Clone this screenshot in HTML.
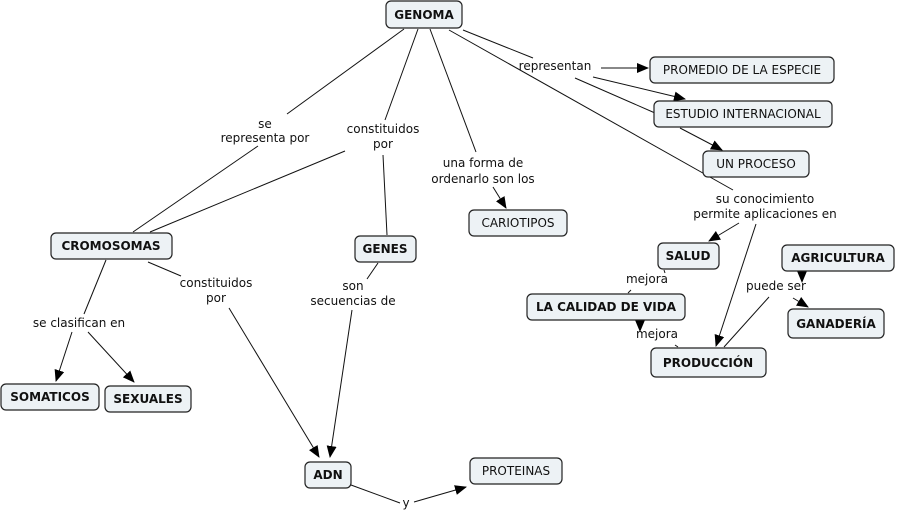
<!DOCTYPE html>
<html><head><meta charset="utf-8"><style>
html,body{margin:0;padding:0;background:#fff;}
svg{display:block;}
text{font-family:"DejaVu Sans","Liberation Sans",sans-serif;font-size:12px;fill:#111;}
.b{font-weight:bold;font-size:12px;}
rect{fill:#edf2f5;stroke:#222;stroke-width:1.2;}
line,polyline{stroke:#111;stroke-width:1;fill:none;}
</style></head><body>
<svg width="898" height="513" viewBox="0 0 898 513" xmlns="http://www.w3.org/2000/svg">
<defs><marker id="a" markerWidth="12" markerHeight="10" refX="11" refY="5" orient="auto" markerUnits="userSpaceOnUse"><path d="M0,0 L12,5 L0,10 z" fill="#000"/></marker></defs>
<!-- connectors -->
<line x1="404" y1="29" x2="287" y2="114"/>
<line x1="258" y1="146" x2="133" y2="232"/>
<line x1="418" y1="29" x2="385" y2="120"/>
<line x1="345" y1="151" x2="150" y2="232"/>
<line x1="383" y1="155" x2="387" y2="235"/>
<line x1="430" y1="29" x2="476" y2="152"/>
<line x1="493" y1="187" x2="506" y2="208" marker-end="url(#a)"/>
<line x1="463" y1="30" x2="533" y2="58"/>
<line x1="601" y1="68" x2="648" y2="68" marker-end="url(#a)"/>
<line x1="593" y1="77" x2="685" y2="99" marker-end="url(#a)"/>
<line x1="575" y1="78" x2="655" y2="113"/>
<line x1="680" y1="128" x2="722" y2="150" marker-end="url(#a)"/>
<line x1="449" y1="30" x2="733" y2="190"/>
<line x1="739" y1="223" x2="709" y2="241" marker-end="url(#a)"/>
<line x1="756" y1="224" x2="716" y2="346" marker-end="url(#a)"/>
<line x1="664" y1="270" x2="665" y2="273"/>
<line x1="631" y1="290" x2="628" y2="293"/>
<line x1="640" y1="316" x2="640" y2="331" marker-end="url(#a)"/>
<line x1="675" y1="345" x2="678" y2="347"/>
<line x1="802" y1="268" x2="802" y2="282" marker-end="url(#a)"/>
<line x1="769" y1="297" x2="724" y2="347"/>
<line x1="793" y1="298" x2="808" y2="307" marker-end="url(#a)"/>
<line x1="106" y1="260" x2="84" y2="314"/>
<line x1="72" y1="332" x2="56" y2="381" marker-end="url(#a)"/>
<line x1="88" y1="332" x2="134" y2="382" marker-end="url(#a)"/>
<line x1="148" y1="262" x2="181" y2="276"/>
<line x1="229" y1="308" x2="319" y2="457" marker-end="url(#a)"/>
<line x1="378" y1="263" x2="367" y2="279"/>
<line x1="352" y1="310" x2="330" y2="457" marker-end="url(#a)"/>
<line x1="351" y1="485" x2="400" y2="503"/>
<line x1="414" y1="502" x2="466" y2="487" marker-end="url(#a)"/>
<!-- labels -->
<g text-anchor="middle">
<text x="265" y="128">se</text><text x="265" y="142">representa por</text>
<text x="383" y="133">constituidos</text><text x="383" y="148">por</text>
<text x="483" y="167">una forma de</text><text x="483" y="183">ordenarlo son los</text>
<text x="555" y="70">representan</text>
<text x="765" y="203">su conocimiento</text><text x="765" y="218">permite aplicaciones en</text>
<text x="647" y="283">mejora</text>
<text x="657" y="338">mejora</text>
<text x="776" y="290">puede ser</text>
<text x="79" y="327">se clasifican en</text>
<text x="216" y="287">constituidos</text><text x="216" y="302">por</text>
<text x="353" y="290">son</text><text x="353" y="305">secuencias de</text>
<text x="406" y="507">y</text>
</g>
<!-- nodes -->
<g text-anchor="middle">
<rect x="386" y="1" width="76" height="27" rx="5"/><text class="b" x="424" y="19">GENOMA</text>
<rect x="650" y="57" width="184" height="26" rx="5"/><text x="742" y="74">PROMEDIO DE LA ESPECIE</text>
<rect x="654" y="101" width="178" height="26" rx="5"/><text x="743" y="118">ESTUDIO INTERNACIONAL</text>
<rect x="703" y="151" width="106" height="26" rx="5"/><text x="756" y="168">UN PROCESO</text>
<rect x="469" y="210" width="98" height="26" rx="5"/><text x="518" y="227">CARIOTIPOS</text>
<rect x="51" y="233" width="121" height="26" rx="5"/><text class="b" x="111" y="250">CROMOSOMAS</text>
<rect x="355" y="236" width="61" height="26" rx="5"/><text class="b" x="385" y="253">GENES</text>
<rect x="658" y="243" width="61" height="26" rx="5"/><text class="b" x="688" y="260">SALUD</text>
<rect x="782" y="245" width="112" height="26" rx="5"/><text class="b" x="838" y="262">AGRICULTURA</text>
<rect x="527" y="294" width="158" height="26" rx="5"/><text class="b" x="606" y="311">LA CALIDAD DE VIDA</text>
<rect x="788" y="309" width="96" height="29" rx="5"/><text class="b" x="836" y="328">GANADERÍA</text>
<rect x="651" y="348" width="115" height="29" rx="5"/><text class="b" x="708" y="367">PRODUCCIÓN</text>
<rect x="1" y="384" width="98" height="26" rx="5"/><text class="b" x="50" y="401">SOMATICOS</text>
<rect x="105" y="386" width="86" height="26" rx="5"/><text class="b" x="148" y="403">SEXUALES</text>
<rect x="305" y="462" width="46" height="26" rx="5"/><text class="b" x="328" y="479">ADN</text>
<rect x="470" y="458" width="92" height="26" rx="5"/><text x="516" y="475">PROTEINAS</text>
</g>
</svg>
</body></html>
